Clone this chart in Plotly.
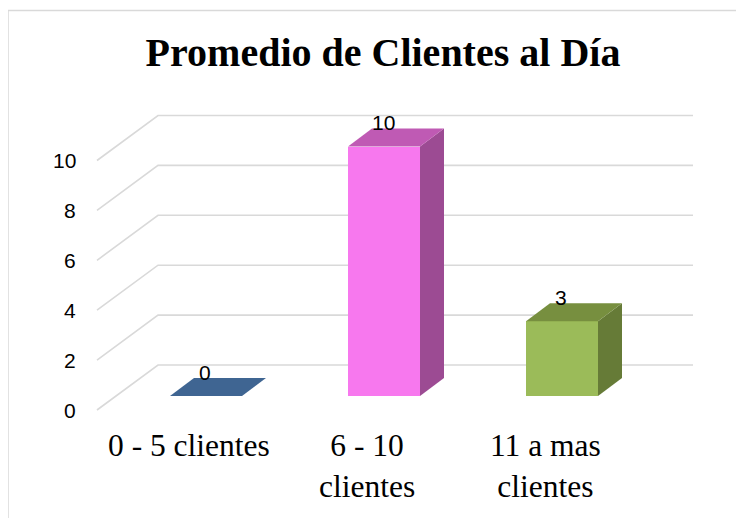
import plotly.graph_objects as go

# ---------------- data ----------------
categories = ["0 - 5 clientes", "6 - 10<br>clientes", "11 a mas<br>clientes"]
values = [0, 10, 3]
y_ticks = [0, 2, 4, 6, 8, 10]
title_text = "Promedio de Clientes al Día"

# ---------------- styles ----------------
front_colors = ["#4a74a8", "#f778ee", "#9bbb59"]
top_colors = ["#3f6592", "#bf5ab4", "#778f3f"]
side_colors = ["#34557c", "#9c4b93", "#667b37"]
grid_color = "#d9d9d9"

# ---------------- geometry (page pixels) ----------------
W_FIG, H_FIG = 744, 518
PAGE_OFF = 8.0      # the page body margin shifts the figure by this much
ML, MR, MT, MB = 60, 24, 100, 88
PX_CAT = 178.0      # pixels between category centres
PX_UNIT = 24.95     # pixels per value unit
X_MID = 384.0 - PAGE_OFF       # pixel of the middle category centre
Y_ZERO = 396.0 - PAGE_OFF      # pixel of value 0 on the bars' front plane
BAR_W_PX = 72.0
BAR_DX_PX, BAR_DY_PX = 24.0, 18.0
WALL_FRONT_X = 97.0 - PAGE_OFF
WALL_BACK_X = 158.0 - PAGE_OFF
WALL_RIGHT_X = 693.0 - PAGE_OFF
WALL_FRONT_Y0 = 410.0 - PAGE_OFF
WALL_BACK_Y0 = 365.0 - PAGE_OFF


def px_to_cat(px):
    return 1 + (px - X_MID) / PX_CAT


x0 = px_to_cat(ML)
x1 = px_to_cat(W_FIG - MR)
y0 = (Y_ZERO - (H_FIG - MB)) / PX_UNIT
y1 = (Y_ZERO - MT) / PX_UNIT

bw = BAR_W_PX / PX_CAT
bdx = BAR_DX_PX / PX_CAT
bdy = BAR_DY_PX / PX_UNIT
xf = px_to_cat(WALL_FRONT_X)
xb = px_to_cat(WALL_BACK_X)
xr = px_to_cat(WALL_RIGHT_X)
off_front = (Y_ZERO - WALL_FRONT_Y0) / PX_UNIT
off_back = (Y_ZERO - WALL_BACK_Y0) / PX_UNIT

fig = go.Figure()
shapes = []

# gridlines (left wall + back wall), drawn below the bars
for t in y_ticks:
    shapes.append(dict(
        type="path", xref="x", yref="y", layer="below",
        path=f"M {xf} {t + off_front} L {xb} {t + off_back} L {xr} {t + off_back}",
        line=dict(color=grid_color, width=1.6)))

xs = list(range(len(values)))

# front faces
fig.add_trace(go.Bar(
    x=xs, y=values, width=bw, base=0,
    marker=dict(color=front_colors, line=dict(width=0)),
    showlegend=False, hoverinfo="skip"))

# side and top faces
for i, v in enumerate(values):
    xl, xrr = i - bw / 2, i + bw / 2
    if v > 0:
        fig.add_trace(go.Scatter(
            x=[xrr, xrr + bdx, xrr + bdx, xrr, xrr],
            y=[0, bdy, v + bdy, v, 0],
            fill="toself", fillcolor=side_colors[i], mode="lines",
            line=dict(width=0, color=side_colors[i]),
            hoverinfo="skip", showlegend=False))
    fig.add_trace(go.Scatter(
        x=[xl, xrr, xrr + bdx, xl + bdx, xl],
        y=[v, v, v + bdy, v + bdy, v],
        fill="toself", fillcolor=top_colors[i], mode="lines",
        line=dict(width=0, color=top_colors[i]),
        hoverinfo="skip", showlegend=False))

annotations = []
# value labels
for i, v in enumerate(values):
    annotations.append(dict(
        x=i, y=v, xref="x", yref="y", text=str(v), showarrow=False,
        yshift=24, xshift=-1, yanchor="middle",
        font=dict(family="Liberation Sans, Arial", size=21, color="#000000")))
# y tick labels on the front edge of the wall
for t in y_ticks:
    annotations.append(dict(
        x=xf, y=t + off_front, xref="x", yref="y", text=str(t),
        showarrow=False, xanchor="right", yanchor="middle", xshift=-19,
        font=dict(family="Liberation Sans, Arial", size=21, color="#000000")))
# category labels
for i, c in enumerate(categories):
    annotations.append(dict(
        x=i, y=y0, xref="x", yref="y", text=c, showarrow=False,
        xanchor="center", yanchor="top", xshift=-17, yshift=12,
        font=dict(family="Liberation Serif, Times New Roman", size=31.5,
                  color="#000000")))


def paper_x(px):
    return (px - ML) / (W_FIG - ML - MR)


def paper_y(py):
    return ((H_FIG - MB) - py) / (H_FIG - MT - MB)


# chart-area border (top and left edges visible)
bx = 7.5 - PAGE_OFF + 0.5
by = 10.5 - PAGE_OFF
shapes.append(dict(
    type="path", xref="paper", yref="paper", layer="below",
    path=f"M {paper_x(bx)} {paper_y(H_FIG + 5)} L {paper_x(bx)} {paper_y(by)} L {paper_x(W_FIG + 5)} {paper_y(by)}",
    line=dict(color="#d9d9d9", width=1.5)))

fig.update_layout(
    width=W_FIG, height=H_FIG,
    margin=dict(l=ML, r=MR, t=MT, b=MB, autoexpand=False),
    paper_bgcolor="#ffffff", plot_bgcolor="rgba(0,0,0,0)",
    title=dict(text=f"<b>{title_text}</b>", xref="paper",
               x=paper_x(383 - PAGE_OFF), xanchor="center",
               y=1 - (52 - PAGE_OFF) / H_FIG, yanchor="middle",
               font=dict(family="Liberation Serif, Times New Roman", size=40,
                         color="#000000")),
    xaxis=dict(range=[x0, x1], visible=False, fixedrange=True),
    yaxis=dict(range=[y0, y1], visible=False, fixedrange=True),
    annotations=annotations,
    shapes=shapes,
    bargap=0,
)

fig.write_html("out.html")
